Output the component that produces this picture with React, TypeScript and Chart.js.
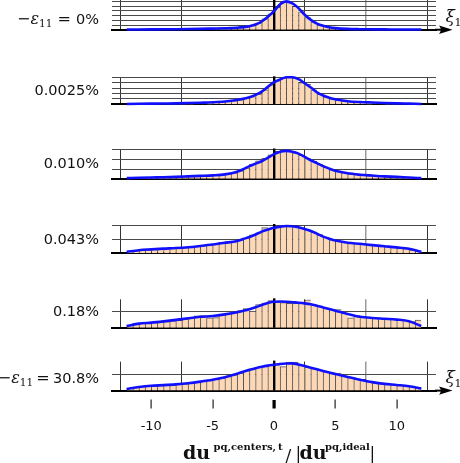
import React, { useEffect, useRef } from "react";
import { Chart, registerables } from "chart.js";

Chart.register(...registerables);

// ---------- data ----------
const binCenters = [
  -11.75, -11.25, -10.75, -10.25, -9.75, -9.25, -8.75, -8.25, -7.75, -7.25, -6.75, -6.25,
  -5.75, -5.25, -4.75, -4.25, -3.75, -3.25, -2.75, -2.25, -1.75, -1.25, -0.75, -0.25,
  0.25, 0.75, 1.25, 1.75, 2.25, 2.75, 3.25, 3.75, 4.25, 4.75, 5.25, 5.75,
  6.25, 6.75, 7.25, 7.75, 8.25, 8.75, 9.25, 9.75, 10.25, 10.75, 11.25, 11.75,
];
const curveX = [
  -12, -11, -10, -9, -8, -7, -6, -5, -4, -3, -2.5, -2, -1.5, -1, -0.5, 0, 0.5, 1, 1.5, 2,
  2.5, 3, 3.5, 4, 4.5, 5, 6, 7, 8, 9, 10, 11, 12,
];
const strainLabels = ["0%", "0.0025%", "0.010%", "0.043%", "0.18%", "30.8%"];
const xTickValues = [-10, -5, 0, 5, 10];
const xTickLabels = ["-10", "-5", "0", "5", "10"];
const yGridValues = [[1, 2, 3, 4, 5, 6], [1, 2, 3, 4, 5], [1, 2, 3], [1, 2], [1], [1]];
const yMaxValues = [6.34, 5, 3, 2, 1.75, 1.81];

const hist0 = [
  0.05, 0.05, 0.06, 0.07, 0.08, 0.09, 0.1, 0.11, 0.12, 0.14, 0.15, 0.17,
  0.2, 0.22, 0.25, 0.28, 0.32, 0.38, 0.47, 0.65, 0.9, 1.4, 2.3, 3.4,
  4.8, 5.9, 5.8, 5.0, 3.8, 2.6, 1.7, 1.05, 0.7, 0.45, 0.3, 0.22,
  0.17, 0.13, 0.11, 0.09, 0.08, 0.07, 0.06, 0.05, 0.05, 0.04, 0.04, 0.03,
];
const hist1 = [
  0.06, 0.08, 0.09, 0.1, 0.12, 0.13, 0.15, 0.17, 0.19, 0.21, 0.24, 0.27,
  0.31, 0.35, 0.4, 0.47, 0.56, 0.68, 0.85, 1.2, 1.45, 1.9, 2.7, 3.6,
  4.4, 4.9, 5.1, 4.9, 4.0, 3.7, 2.7, 1.9, 1.4, 1.05, 0.8, 0.65,
  0.55, 0.47, 0.4, 0.35, 0.3, 0.26, 0.22, 0.19, 0.16, 0.13, 0.1, 0.08,
];
const hist2 = [
  0.08, 0.1, 0.12, 0.13, 0.14, 0.15, 0.16, 0.18, 0.2, 0.22, 0.25, 0.28,
  0.3, 0.33, 0.37, 0.42, 0.5, 0.62, 0.82, 1.1, 1.5, 1.85, 2.1, 2.45,
  2.8, 3.0, 2.85, 2.65, 2.4, 2.1, 1.8, 1.5, 1.2, 0.95, 0.78, 0.65,
  0.52, 0.45, 0.38, 0.34, 0.3, 0.26, 0.23, 0.2, 0.17, 0.14, 0.11, 0.08,
];
const hist3 = [
  0.12, 0.2, 0.22, 0.25, 0.29, 0.32, 0.34, 0.36, 0.38, 0.41, 0.45, 0.5,
  0.54, 0.6, 0.65, 0.78, 0.82, 0.87, 0.96, 1.08, 1.3, 1.45, 1.82, 1.78,
  1.85, 1.9, 1.97, 1.97, 1.8, 1.68, 1.52, 1.32, 1.12, 0.97, 0.85, 0.8,
  0.75, 0.7, 0.66, 0.6, 0.56, 0.52, 0.47, 0.43, 0.38, 0.33, 0.25, 0.18,
];
const hist4 = [
  0.16, 0.27, 0.27, 0.29, 0.31, 0.37, 0.37, 0.43, 0.45, 0.53, 0.63, 0.73,
  0.75, 0.61, 0.62, 0.84, 0.88, 0.94, 1.06, 1.18, 1.02, 1.43, 1.52, 1.67,
  1.58, 1.55, 1.5, 1.5, 1.5, 1.71, 1.42, 1.32, 1.2, 1.12, 1.12, 0.9,
  0.61, 0.75, 0.68, 0.64, 0.6, 0.58, 0.55, 0.52, 0.48, 0.44, 0.38, 0.47,
];
const hist5 = [
  0.16, 0.2, 0.25, 0.28, 0.3, 0.32, 0.34, 0.36, 0.4, 0.43, 0.47, 0.52,
  0.58, 0.64, 0.72, 0.8, 0.88, 0.98, 1.1, 1.24, 1.35, 1.45, 1.52, 1.58,
  1.62, 1.5, 1.78, 1.78, 1.58, 1.45, 1.38, 1.28, 1.18, 1.1, 1.1, 0.92,
  0.83, 0.72, 0.7, 0.57, 0.5, 0.45, 0.4, 0.37, 0.33, 0.29, 0.26, 0.22,
];

const curve0 = [
  0.03, 0.05, 0.07, 0.09, 0.11, 0.14, 0.18, 0.24, 0.3, 0.42, 0.55, 0.75, 1.1, 1.75, 2.75,
  3.95, 5.45, 6.05, 5.6, 4.6, 3.2, 2.1, 1.3, 0.82, 0.52, 0.34, 0.17, 0.11, 0.08, 0.06,
  0.05, 0.04, 0.03,
];
const curve1 = [
  0.06, 0.09, 0.12, 0.15, 0.18, 0.23, 0.3, 0.38, 0.52, 0.8, 1.03, 1.3, 1.75, 2.35, 3.25,
  4.1, 4.6, 5.0, 5.0, 4.65, 3.9, 3.1, 2.2, 1.62, 1.22, 0.92, 0.58, 0.42, 0.33, 0.25,
  0.18, 0.12, 0.06,
];
const curve2 = [
  0.07, 0.11, 0.14, 0.16, 0.2, 0.25, 0.3, 0.35, 0.45, 0.72, 0.98, 1.3, 1.55, 1.8, 2.15,
  2.52, 2.78, 2.86, 2.78, 2.58, 2.25, 1.9, 1.6, 1.3, 1.04, 0.82, 0.56, 0.42, 0.33, 0.25,
  0.2, 0.13, 0.07,
];
const curve3 = [
  0.1, 0.22, 0.28, 0.33, 0.37, 0.43, 0.52, 0.62, 0.74, 0.87, 1.01, 1.15, 1.33, 1.53, 1.68,
  1.81, 1.88, 1.93, 1.91, 1.84, 1.72, 1.57, 1.38, 1.18, 1.03, 0.9, 0.75, 0.67, 0.58, 0.5,
  0.42, 0.32, 0.1,
];
const curve4 = [
  0.1, 0.25, 0.31, 0.39, 0.48, 0.58, 0.67, 0.72, 0.82, 0.95, 1.04, 1.14, 1.26, 1.4, 1.52,
  1.6, 1.61, 1.6, 1.57, 1.54, 1.5, 1.44, 1.35, 1.25, 1.15, 1.05, 0.85, 0.68, 0.6, 0.55,
  0.5, 0.4, 0.1,
];
const curve5 = [
  0.1, 0.22, 0.3, 0.34, 0.39, 0.46, 0.56, 0.68, 0.84, 1.05, 1.18, 1.3, 1.4, 1.49, 1.56,
  1.61, 1.66, 1.69, 1.7, 1.63, 1.53, 1.43, 1.33, 1.23, 1.13, 1.03, 0.85, 0.68, 0.53, 0.42,
  0.35, 0.27, 0.12,
];

const histSeries = [hist0, hist1, hist2, hist3, hist4, hist5];
const curveSeries = [curve0, curve1, curve2, curve3, curve4, curve5];

// ---------- layout / style ----------
const W = 460;
const H = 463;
const AREA_LEFT = 112;
const AREA_RIGHT = 436;
const areaTops = [0, 77.3, 149.5, 225, 299.3, 361.6];
const areaBottoms = [29.7, 104.3, 178.8, 253.3, 327.7, 390.6];
const labelBaselines = [23.5, 95.2, 167.5, 244.2, 316.2, 383];
const TICK_LABEL_Y = 427;

type Seg = { t: string; f: string; dy?: number };

const mathFont = (s: number, italic = false) =>
  `${italic ? "italic " : ""}${s}px "DejaVu Serif"`;
const sansFont = (s: number) => `${s}px "DejaVu Sans"`;

function labelSegs(i: number): Seg[] {
  if (i === 0) {
    return [
      { t: "\u2212", f: mathFont(16) },
      { t: "\u03b5", f: mathFont(16, true) },
      { t: "11", f: mathFont(10.5), dy: 3 },
      { t: " = ", f: mathFont(16) },
      { t: strainLabels[0], f: sansFont(14.5) },
    ];
  }
  if (i === 5) {
    return [
      { t: "\u2212", f: mathFont(16) },
      { t: "\u03b5", f: mathFont(16, true) },
      { t: "11", f: mathFont(10.5), dy: 3 },
      { t: "\u2009=\u2009", f: mathFont(16) },
      { t: strainLabels[5], f: sansFont(14.5) },
    ];
  }
  return [{ t: strainLabels[i], f: sansFont(14.5) }];
}

function drawSegsRight(ctx: CanvasRenderingContext2D, segs: Seg[], xRight: number, baseline: number) {
  const widths = segs.map((s) => {
    ctx.font = s.f;
    return ctx.measureText(s.t).width;
  });
  const total = widths.reduce((a, b) => a + b, 0);
  let x = xRight - total;
  segs.forEach((s, k) => {
    ctx.font = s.f;
    ctx.fillText(s.t, x, baseline + (s.dy || 0));
    x += widths[k];
  });
}

function drawArrow(ctx: CanvasRenderingContext2D, xStart: number, y: number) {
  ctx.save();
  ctx.strokeStyle = "#000";
  ctx.fillStyle = "#000";
  ctx.lineWidth = 2;
  ctx.beginPath();
  ctx.moveTo(xStart, y);
  ctx.lineTo(446, y);
  ctx.stroke();
  ctx.beginPath();
  ctx.moveTo(452.5, y);
  ctx.lineTo(439, y - 4.2);
  ctx.quadraticCurveTo(442.5, y, 439, y + 4.2);
  ctx.closePath();
  ctx.fill();
  ctx.restore();
}

function drawXi(ctx: CanvasRenderingContext2D, baseline: number) {
  ctx.save();
  ctx.fillStyle = "#111";
  ctx.textBaseline = "alphabetic";
  ctx.textAlign = "left";
  ctx.font = mathFont(17, true);
  ctx.fillText("\u03be", 445.5, baseline);
  ctx.font = mathFont(11);
  ctx.fillText("1", 454.5, baseline + 4);
  ctx.restore();
}

function makePlugin(index: number) {
  return {
    id: "panelDecor" + index,
    afterDatasetDraw(chart: any, args: any) {
      if (args.index !== 1) return;
      const { ctx, chartArea } = chart;
      const x0 = chart.scales.x.getPixelForValue(0);
      ctx.save();
      ctx.fillStyle = "#000";
      ctx.fillRect(Math.round(x0) - 1, chartArea.top - (index === 0 ? 0 : 1), 2.4, chartArea.bottom - chartArea.top + 1);
      ctx.restore();
    },
    afterDraw(chart: any) {
      const { ctx, chartArea } = chart;
      ctx.save();
      ctx.fillStyle = "#111";
      ctx.textBaseline = "alphabetic";
      ctx.textAlign = "left";
      drawSegsRight(ctx, labelSegs(index), 99, labelBaselines[index]);
      ctx.restore();

      if (index === 0 || index === 5) {
        drawArrow(ctx, chartArea.right - 1, chartArea.bottom);
        drawXi(ctx, index === 0 ? 22 : 382.5);
      }

      if (index === 5) {
        const xs = chart.scales.x;
        ctx.save();
        // tick marks and tick labels below the last panel
        ctx.font = sansFont(13);
        ctx.textAlign = "center";
        ctx.textBaseline = "middle";
        xTickValues.forEach((v, k) => {
          const px = xs.getPixelForValue(v);
          if (v === 0) {
            ctx.fillStyle = "#000";
            ctx.fillRect(px - 1.5, 400, 3.2, 8.5);
          } else {
            ctx.fillStyle = "#222";
            ctx.fillRect(Math.round(px) - 0.5, 399.5, 1.2, 9);
          }
          ctx.fillStyle = "#111";
          ctx.fillText(xTickLabels[k], px, TICK_LABEL_Y);
        });
        // axis title: du^{pq,centers, t} / |du^{pq,ideal}|
        ctx.fillStyle = "#111";
        ctx.textBaseline = "alphabetic";
        ctx.textAlign = "left";
        const big = 'bold 19px "DejaVu Serif"';
        const sup = 'bold 10px "DejaVu Serif"';
        const reg = '17px "DejaVu Serif"';
        ctx.font = big;
        ctx.fillText("du", 183, 459);
        ctx.font = sup;
        ctx.fillText("pq,centers,\u2009t", 213.5, 450);
        ctx.font = reg;
        ctx.fillText("/", 285.5, 461);
        ctx.fillText("|", 295.5, 459);
        ctx.font = big;
        ctx.fillText("du", 299.5, 459);
        ctx.font = sup;
        ctx.fillText("pq,ideal", 325, 450);
        ctx.font = reg;
        ctx.fillText("|", 369.5, 459);
        ctx.restore();
      }
    },
  };
}

function makeConfig(index: number): any {
  return {
    type: "bar",
    data: {
      datasets: [
        {
          type: "line",
          data: curveX.map((x, k) => ({ x, y: curveSeries[index][k] })),
          borderColor: "#1010ff",
          borderWidth: 2.6,
          pointRadius: 0,
          cubicInterpolationMode: "monotone",
          fill: false,
          order: 0,
          clip: false,
        },
        {
          type: "bar",
          data: binCenters.map((x, k) => ({ x, y: histSeries[index][k] })),
          backgroundColor: "#fdd8b6",
          borderColor: "rgba(55,55,55,0.85)",
          borderWidth: { top: 1, left: 1, right: 0, bottom: 0 },
          borderSkipped: "start",
          barPercentage: 1,
          categoryPercentage: 1,
          order: 1,
        },
      ],
    },
    options: {
      animation: false,
      responsive: false,
      maintainAspectRatio: false,
      events: [],
      layout: {
        padding: {
          left: AREA_LEFT,
          right: W - AREA_RIGHT,
          top: areaTops[index],
          bottom: H - areaBottoms[index],
        },
      },
      plugins: {
        legend: { display: false },
        tooltip: { enabled: false },
        title: { display: false },
      },
      scales: {
        x: {
          type: "linear",
          min: -13.2,
          max: 13.2,
          offset: false,
          afterBuildTicks: (s: any) => {
            s.ticks = xTickValues.map((v) => ({ value: v }));
          },
          ticks: { display: false },
          grid: {
            drawTicks: false,
            color: (c: any) =>
              c.tick && c.tick.value === 0
                ? "rgba(0,0,0,0)"
                : c.tick && c.tick.value === 10
                ? "#9a9a9a"
                : "#333",
            lineWidth: (c: any) => (c.tick && c.tick.value === 10 ? 1.5 : 1),
          },
          border: { display: true, color: "#000", width: 2 },
        },
        y: {
          min: 0,
          max: yMaxValues[index],
          afterBuildTicks: (s: any) => {
            s.ticks = yGridValues[index].map((v) => ({ value: v }));
          },
          ticks: { display: false },
          grid: { drawTicks: false, color: "#4a4a4a", lineWidth: 1 },
          border: { display: false },
        },
      },
    },
    plugins: [makePlugin(index)],
  };
}

function Panel({ index }: { index: number }) {
  const ref = useRef<HTMLCanvasElement>(null);
  useEffect(() => {
    if (!ref.current) return;
    const chart = new Chart(ref.current, makeConfig(index));
    return () => chart.destroy();
  }, [index]);
  return (
    <canvas
      ref={ref}
      width={W}
      height={H}
      style={{ position: "absolute", left: 0, top: 0, width: W, height: H }}
    />
  );
}

export default function App() {
  return (
    <div
      style={{
        position: "absolute",
        left: 0,
        top: 0,
        width: W,
        height: H,
        background: "#fff",
        overflow: "hidden",
      }}
    >
      {[0, 1, 2, 3, 4, 5].map((i) => (
        <Panel key={i} index={i} />
      ))}
    </div>
  );
}
